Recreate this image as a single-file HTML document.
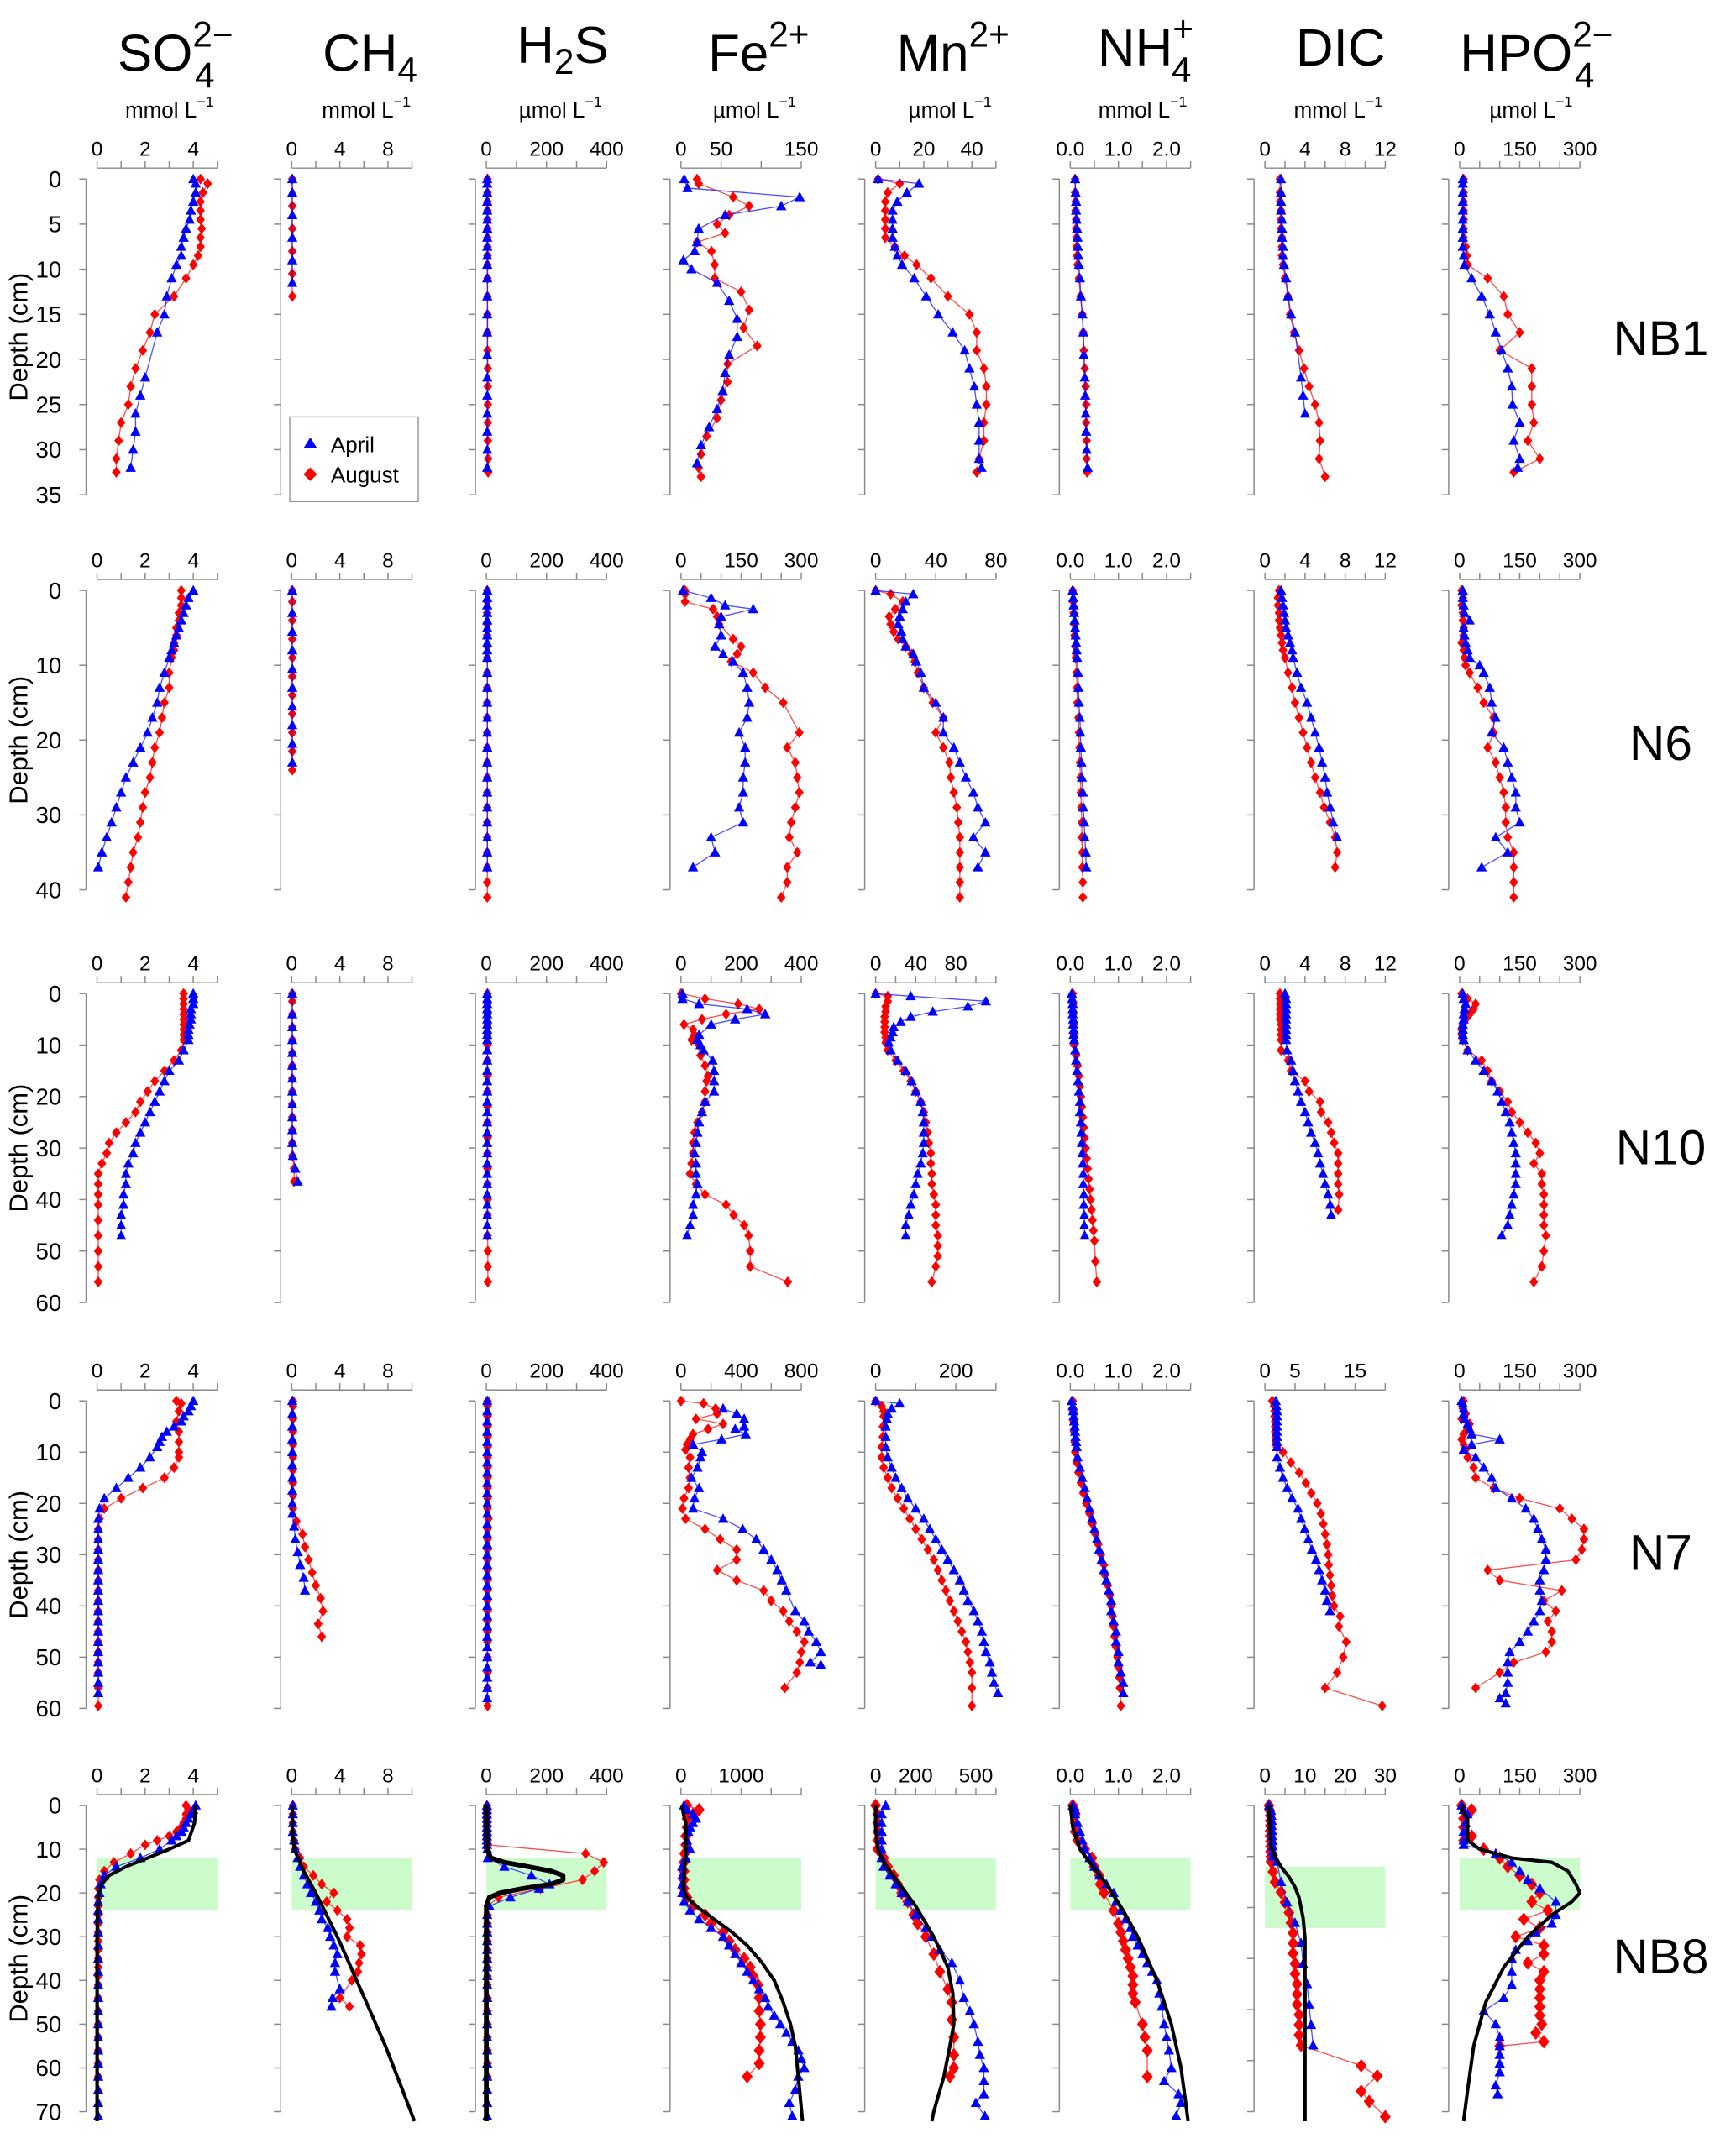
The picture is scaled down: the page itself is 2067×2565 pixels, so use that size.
<!DOCTYPE html>
<html><head><meta charset="utf-8"><title>Porewater profiles</title>
<style>
html,body{margin:0;padding:0;background:#fff;}
svg{display:block;}
text{font-family:"Liberation Sans",Arial,sans-serif;fill:#000;}
</style></head>
<body>
<svg id="chart" xmlns="http://www.w3.org/2000/svg" width="2067" height="2565" viewBox="0 0 1270 1576" preserveAspectRatio="none">
<g>
 <text x="86" y="52" font-size="38">SO<tspan font-size="26" dy="-18">2−</tspan><tspan font-size="26" dx="-28" dy="30">4</tspan></text>
 <text x="236" y="52" font-size="38">CH<tspan font-size="26" dy="8">4</tspan></text>
 <text x="378" y="46" font-size="38">H<tspan font-size="26" dy="8">2</tspan><tspan dy="-8">S</tspan></text>
 <text x="518" y="52" font-size="38">Fe<tspan font-size="26" dy="-18">2+</tspan></text>
 <text x="656" y="52" font-size="38">Mn<tspan font-size="26" dy="-18">2+</tspan></text>
 <text x="803" y="48" font-size="38">NH<tspan font-size="26" dy="-18">+</tspan><tspan font-size="26" dx="-16" dy="30">4</tspan></text>
 <text x="948" y="48" font-size="38">DIC</text>
 <text x="1068" y="52" font-size="38">HPO<tspan font-size="26" dy="-18">2−</tspan><tspan font-size="26" dx="-28" dy="30">4</tspan></text>
</g>
<g font-size="16">
 <text x="124" y="86" text-anchor="middle">mmol L<tspan font-size="11" dy="-8">−1</tspan></text>
 <text x="268" y="86" text-anchor="middle">mmol L<tspan font-size="11" dy="-8">−1</tspan></text>
 <text x="410" y="86" text-anchor="middle">µmol L<tspan font-size="11" dy="-8">−1</tspan></text>
 <text x="552" y="86" text-anchor="middle">µmol L<tspan font-size="11" dy="-8">−1</tspan></text>
 <text x="695" y="86" text-anchor="middle">µmol L<tspan font-size="11" dy="-8">−1</tspan></text>
 <text x="836" y="86" text-anchor="middle">mmol L<tspan font-size="11" dy="-8">−1</tspan></text>
 <text x="979" y="86" text-anchor="middle">mmol L<tspan font-size="11" dy="-8">−1</tspan></text>
 <text x="1120" y="86" text-anchor="middle">µmol L<tspan font-size="11" dy="-8">−1</tspan></text>
</g>
<g id="plots"></g>
<g>
 <rect x="212" y="305" width="94" height="62" fill="#fff" stroke="#888" stroke-width="0.8"/>
 <polygon points="227,320 222,328 232,328" fill="#0000ff"/>
 <text x="242" y="331" font-size="16">April</text>
 <polygon points="227,342 232,347 227,352 222,347" fill="#ff0000"/>
 <text x="242" y="353" font-size="16">August</text>
</g>
</svg>
<script>
// ---- axis configuration (labels & limits) ----
const COL_KEYS = ['SO4','CH4','H2S','FE','MN','NH4','DIC','HPO4'];
const ROW_NAMES = ['NB1','N6','N10','N7','NB8'];
const ROW_DMAX = [35,40,60,60,70];
const ROW_DSTEP = [5,10,10,10,10];
const XMAX_NB1 = [5,10,400,150,50,2.5,12,300];
const XMAX_N6  = [5,10,400,300,80,2.5,12,300];
const XMAX_N10 = [5,10,400,400,120,2.5,12,300];
const XMAX_N7  = [5,10,400,800,300,2.5,20,300];
const XMAX_NB8 = [5,10,400,2000,600,2.5,30,300];
const XSTEP_NB1 = [1,2,100,50,10,0.5,2,50];
const XSTEP_N6  = [1,2,100,50,20,0.5,2,50];
const XSTEP_N10 = [1,2,100,100,20,0.5,2,50];
const XSTEP_N7  = [1,2,100,200,100,0.5,5,50];
const XSTEP_NB8 = [1,2,100,500,100,0.5,5,50];
const XLAB_NB1 = [['0','2','4'],['0','4','8'],['0','200','400'],['0','50','150'],['0','20','40'],['0.0','1.0','2.0'],['0','4','8','12'],['0','150','300']];
const XLAB_N6  = [['0','2','4'],['0','4','8'],['0','200','400'],['0','150','300'],['0','40','80'],['0.0','1.0','2.0'],['0','4','8','12'],['0','150','300']];
const XLAB_N10 = [['0','2','4'],['0','4','8'],['0','200','400'],['0','200','400'],['0','40','80'],['0.0','1.0','2.0'],['0','4','8','12'],['0','150','300']];
const XLAB_N7  = [['0','2','4'],['0','4','8'],['0','200','400'],['0','400','800'],['0','200'],['0.0','1.0','2.0'],['0','5','15'],['0','150','300']];
const XLAB_NB8 = [['0','2','4'],['0','4','8'],['0','200','400'],['0','1000'],['0','200','500'],['0.0','1.0','2.0'],['0','10','20','30'],['0','150','300']];
const NB8_BAND = [12,24];
const NB8_DIC_DMAX = 60;

// ---- data: [depth cm, value] ----
const NB1_SO4_APR=[[0,4.0],[0.5,4.1],[1.5,4.1],[2.5,4.0],[3.5,3.9],[4.5,3.85],[5.5,3.7],[6.5,3.6],[7.5,3.5],[8.5,3.5],[9.5,3.3],[11,3.1],[13,2.9],[15,2.8],[17,2.5],[22,2.0],[24,1.8],[26,1.6],[28,1.6],[30,1.5],[32,1.4]];
const NB1_SO4_AUG=[[0,4.3],[0.5,4.6],[1.5,4.4],[2.5,4.3],[3.5,4.3],[4.5,4.3],[5.5,4.35],[6.5,4.3],[7.5,4.3],[8.5,4.2],[9.5,4.0],[11,3.7],[13,3.2],[15,2.4],[17,2.2],[19,1.9],[21,1.6],[23,1.4],[25,1.3],[27,1.0],[29,0.9],[31,0.8],[32.5,0.8]];
const NB1_CH4_APR=[[0,0.05],[1.5,0.05],[4,0.05],[6.5,0.05],[9,0.05],[11.5,0.05]];
const NB1_CH4_AUG=[[0,0.05],[3,0.05],[5.5,0.05],[8,0.05],[10.5,0.05],[13,0.05]];
const NB1_H2S_APR=[[0,3],[0.5,3],[1.5,3],[2.5,3],[3.5,3],[4.5,3],[5.5,3],[6.5,3],[7.5,3],[8.5,3],[9.5,3],[11,3],[13,3],[15,3],[17,3],[19.5,3],[22,3],[24,3],[26,3],[28,3],[30,3],[32,3]];
const NB1_H2S_AUG=[[0,4],[1.5,4],[2.5,4],[3.5,4],[4.5,4],[5.5,4],[6.5,4],[7.5,4],[8.5,4],[9.5,4],[11,4],[13,4],[15,4],[17,4],[19,4],[21,5],[23,5],[25,5],[27,5],[29,5],[31,6],[32.5,6]];
const NB1_FE_APR=[[0,4],[1,8],[2,148],[3,125],[4,55],[5.5,22],[7,20],[8,17],[9,3],[10,13],[11.5,45],[13.5,60],[15.5,70],[17.5,70],[19.5,60],[21.5,55],[23.5,52],[25.5,45],[27.5,35],[29.5,25],[31.5,20]];
const NB1_FE_AUG=[[0,20],[0.5,22],[2,65],[3,85],[4,60],[5,45],[6,55],[7,20],[8,38],[9.5,42],[11,42],[12.5,75],[14.5,85],[16.5,78],[18.5,95],[20.5,58],[22.5,58],[24.5,50],[26.5,45],[28.5,32],[30.5,25],[32,22],[33,25]];
const NB1_MN_APR=[[0,1],[0.5,18],[1.5,13],[2.5,9],[3.5,7],[4.5,7],[5.5,7],[6.5,7],[7.5,8],[8.5,9],[9.5,11],[11,16],[13,21],[15,26],[17,32],[19,37],[21,39],[23,41],[25,42],[27,43],[29,43],[31,43],[32,44]];
const NB1_MN_AUG=[[0,1],[0.5,10],[1.5,5],[2.5,4],[3.5,4],[4.5,4],[5.5,4],[6.5,4],[7.5,8],[8.5,12],[9.5,17],[11,23],[13,30],[15,39],[17,42],[19,42],[21,45],[23,46],[25,46],[27,45],[29,45],[31,43],[32.5,42]];
const NB1_NH4_APR=[[0,0.1],[1.5,0.11],[2.5,0.12],[3.5,0.12],[4.5,0.13],[5.5,0.14],[6.5,0.15],[7.5,0.16],[8.5,0.17],[9.5,0.18],[11,0.2],[13,0.22],[15,0.25],[17,0.27],[19.5,0.28],[22,0.3],[24,0.31],[26,0.32],[28,0.33],[30,0.34],[32,0.36]];
const NB1_NH4_AUG=[[0,0.1],[1.5,0.1],[2.5,0.11],[3.5,0.11],[4.5,0.12],[5.5,0.12],[6.5,0.13],[7.5,0.13],[8.5,0.14],[9.5,0.15],[11,0.18],[13,0.21],[15,0.25],[17,0.27],[19,0.28],[21,0.3],[23,0.32],[25,0.33],[27,0.33],[29,0.34],[31,0.34],[32.5,0.35]];
const NB1_DIC_APR=[[0,1.6],[1.5,1.6],[2.5,1.6],[3.5,1.6],[4.5,1.7],[5.5,1.7],[6.5,1.7],[7.5,1.8],[8.5,1.8],[9.5,1.9],[11,2.1],[13,2.3],[15,2.6],[17,3.0],[22,3.6],[24,3.8],[26,4.0]];
const NB1_DIC_AUG=[[0,1.5],[1.5,1.5],[2.5,1.5],[3.5,1.6],[4.5,1.6],[5.5,1.6],[6.5,1.7],[7.5,1.7],[8.5,1.7],[9.5,1.8],[11,2.0],[13,2.3],[15,2.5],[17,2.9],[19,3.4],[21,3.9],[23,4.4],[25,5.0],[27,5.4],[29,5.5],[31,5.4],[33,6.0]];
const NB1_HPO4_APR=[[0,8],[0.5,8],[1.5,8],[2.5,8],[3.5,8],[4.5,8],[5.5,8],[6.5,8],[7.5,8],[8.5,10],[9.5,12],[11,30],[13,55],[15,75],[17,90],[19,105],[21,120],[23,130],[25,132],[27,150],[29,135],[31,150],[32,145]];
const NB1_HPO4_AUG=[[0,10],[1.5,10],[2.5,10],[3.5,10],[4.5,10],[5.5,10],[6.5,10],[7.5,15],[8.5,18],[9.5,20],[11,70],[13,110],[15,120],[17,150],[19,100],[21,180],[23,180],[25,180],[27,185],[29,170],[31,200],[32.5,135]];

const N6_SO4_APR=[[0,4.0],[1,3.8],[2,3.7],[3,3.6],[4,3.5],[5,3.4],[6,3.3],[7,3.2],[8,3.1],[9,3.0],[11,2.8],[13,2.6],[15,2.5],[17,2.3],[19,2.1],[21,1.8],[23,1.5],[25,1.2],[27,1.0],[29,0.8],[31,0.6],[33,0.4],[35,0.2],[37,0.05]];
const N6_SO4_AUG=[[0,3.5],[1,3.5],[2,3.5],[3,3.4],[4,3.4],[5,3.3],[6,3.3],[7,3.2],[8,3.2],[9,3.1],[11,3.0],[13,3.0],[15,2.8],[17,2.7],[19,2.6],[21,2.4],[23,2.3],[25,2.2],[27,2.0],[29,1.9],[31,1.8],[33,1.7],[35,1.5],[37,1.4],[39,1.3],[41,1.2]];
const N6_CH4_APR=[[0,0.05],[3,0.05],[5.5,0.05],[8,0.05],[10.5,0.05],[13,0.05],[15.5,0.05],[18,0.05],[20.5,0.05],[23,0.05]];
const N6_CH4_AUG=[[0,0.05],[1.5,0.05],[4,0.05],[6.5,0.05],[9,0.05],[11.5,0.05],[14,0.05],[16.5,0.05],[19,0.05],[21.5,0.05],[24,0.05]];
const N6_H2S_APR=[[0,3],[1,3],[2,3],[3,3],[4,3],[5,3],[6,3],[7,3],[8,3],[9,3],[11,3],[13,3],[15,3],[17,3],[19,3],[21,3],[23,3],[25,3],[27,3],[29,3],[31,3],[33,3],[35,3],[37,3]];
const N6_H2S_AUG=[[0,3],[1.5,3],[3,3],[4.5,3],[6,3],[7.5,3],[9,3],[11,3],[13,3],[15,3],[17,3],[19,3],[21,3],[23,3],[25,3],[27,3],[29,3],[31,3],[33,3],[35,3],[37,3],[39,3],[41,3]];
const N6_FE_APR=[[0,5],[1,75],[2,110],[2.5,180],[3.5,100],[4.5,95],[6,100],[7.5,85],[8.5,105],[9.5,130],[11,155],[13,165],[15,170],[17,165],[19,145],[21,160],[23,160],[25,155],[27,155],[29,145],[31,155],[33,75],[35,85],[37,30]];
const N6_FE_AUG=[[0,10],[0.5,10],[1.5,10],[2.5,80],[3.5,90],[4.5,95],[6.5,130],[7.5,150],[8.5,140],[9.5,125],[11,180],[13,210],[15,255],[19,295],[21,265],[23,285],[25,290],[27,295],[29,285],[31,275],[33,270],[35,290],[37,265],[39,265],[41,250]];
const N6_MN_APR=[[0,0],[0.5,25],[1.5,20],[2.5,18],[3.5,16],[4.5,15],[5.5,17],[6.5,18],[7.5,20],[8.5,25],[9.5,27],[11,30],[13,32],[15,40],[17,45],[19,45],[21,52],[23,56],[25,60],[27,65],[29,68],[31,73],[33,65],[35,73],[37,68]];
const N6_MN_AUG=[[0,0],[0.5,10],[1.5,18],[2.5,13],[3.5,9],[4.5,10],[5.5,12],[6.5,15],[7.5,20],[8.5,24],[9.5,26],[11,28],[13,32],[15,38],[17,45],[19,40],[21,45],[23,49],[25,50],[27,52],[29,54],[31,55],[33,56],[35,56],[37,56],[39,56],[41,56]];
const N6_NH4_APR=[[0,0.05],[1,0.06],[2,0.07],[3,0.08],[4,0.09],[5,0.1],[6,0.11],[7,0.12],[8,0.13],[9,0.14],[11,0.16],[13,0.17],[15,0.18],[17,0.2],[19,0.21],[21,0.22],[23,0.23],[25,0.24],[27,0.26],[29,0.27],[31,0.29],[33,0.3],[35,0.32],[37,0.33]];
const N6_NH4_AUG=[[0,0.05],[1.5,0.06],[3,0.07],[4.5,0.08],[6,0.09],[7.5,0.1],[9,0.11],[11,0.13],[13,0.14],[15,0.15],[17,0.17],[19,0.18],[21,0.19],[23,0.2],[25,0.21],[27,0.22],[29,0.23],[31,0.24],[33,0.24],[35,0.25],[37,0.25],[39,0.26],[41,0.26]];
const N6_DIC_APR=[[0,1.6],[1,1.7],[2,1.8],[3,1.9],[4,2.0],[5,2.1],[6,2.3],[7,2.5],[8,2.7],[9,2.8],[11,3.2],[13,3.6],[15,4.2],[17,4.6],[19,5.0],[21,5.4],[23,5.7],[25,6.0],[27,6.2],[29,6.5],[31,6.8],[33,7.2]];
const N6_DIC_AUG=[[0,1.4],[1,1.3],[2,1.3],[3,1.4],[4,1.4],[5,1.5],[6,1.6],[7,1.7],[8,1.8],[9,2.0],[11,2.3],[13,2.7],[15,3.0],[17,3.4],[19,3.8],[21,4.2],[23,4.6],[25,5.0],[27,5.5],[29,5.9],[31,6.5],[33,7.0],[35,7.2],[37,7.0]];
const N6_HPO4_APR=[[0,8],[1,8],[2,10],[3,12],[4,25],[5,10],[6,12],[7,15],[8,20],[9,25],[10,50],[11,60],[13,75],[15,80],[17,90],[19,80],[21,110],[23,120],[25,130],[27,140],[29,140],[31,150],[33,90],[35,120],[37,55]];
const N6_HPO4_AUG=[[0,5],[1,8],[2,5],[3,8],[4,8],[5,10],[6,10],[7,5],[8,10],[9,12],[10,15],[11,25],[13,45],[15,60],[17,85],[19,85],[21,70],[23,90],[25,100],[27,110],[29,115],[31,115],[33,120],[35,135],[37,135],[39,135],[41,135]];

const N10_SO4_APR=[[0,4.0],[1,4.0],[2,4.0],[3,3.9],[4,3.9],[5,3.9],[6,3.85],[7,3.8],[8,3.8],[9,3.8],[11,3.6],[13,3.4],[15,3.0],[17,2.8],[19,2.6],[21,2.4],[23,2.2],[25,2.0],[27,1.8],[29,1.6],[31,1.5],[33,1.3],[35,1.2],[37,1.2],[39,1.1],[41,1.1],[43,1.0],[45,1.0],[47,1.0]];
const N10_SO4_AUG=[[0,3.6],[1,3.6],[2,3.6],[3,3.6],[4,3.6],[5,3.6],[6,3.6],[7,3.6],[8,3.6],[9,3.6],[11,3.5],[13,3.2],[15,2.8],[17,2.4],[19,2.1],[21,1.8],[23,1.6],[25,1.2],[27,0.8],[29,0.5],[31,0.4],[33,0.2],[35,0.05],[37,0.05],[39,0.05],[41,0.05],[44,0.05],[47,0.05],[50,0.05],[53,0.05],[56,0.05]];
const N10_CH4_APR=[[0,0.05],[4,0.05],[6.5,0.05],[9,0.05],[11.5,0.05],[14,0.05],[16.5,0.05],[19,0.05],[21.5,0.05],[24,0.05],[26.5,0.05],[29,0.05],[31.5,0.1],[34,0.3],[36.5,0.5]];
const N10_CH4_AUG=[[0,0.05],[1.5,0.05],[4,0.05],[6.5,0.05],[9,0.05],[11.5,0.05],[14,0.05],[16.5,0.05],[19,0.05],[21.5,0.05],[24,0.05],[26.5,0.05],[29,0.05],[31.5,0.05],[34,0.2],[36.5,0.2]];
const N10_H2S_APR=[[0,3],[1,3],[2,3],[3,3],[4,3],[5,3],[6,3],[7,3],[8,3],[9,3],[11,3],[13,3],[15,3],[17,3],[19,3],[21,3],[23,3],[25,3],[27,3],[29,3],[31,3],[33,3],[35,3],[37,3],[39,3],[41,3],[43,3],[45,3],[47,3]];
const N10_H2S_AUG=[[0,4],[2,4],[4,4],[6,4],[8,4],[10,4],[13,4],[16,4],[19,4],[22,4],[25,4],[28,4],[31,4],[34,4],[37,4],[40,4],[43,4],[47,4],[50,5],[53,5],[56,5]];
const N10_FE_APR=[[0,5],[1,5],[2,60],[3,220],[4,280],[5,180],[6,100],[8,60],[9,55],[10,65],[11,75],[13,105],[15,110],[17,110],[19,110],[21,80],[23,70],[25,60],[27,55],[29,50],[31,45],[33,50],[35,50],[37,55],[39,50],[41,40],[43,40],[45,30],[47,20]];
const N10_FE_AUG=[[0,0],[1,80],[2,190],[3,260],[4,150],[5,70],[6,10],[7,40],[8,45],[9,35],[10,60],[12,65],[14,80],[16,90],[17,85],[19,80],[21,80],[23,70],[25,55],[27,45],[29,40],[31,40],[33,35],[35,30],[37,50],[39,80],[41,150],[43,175],[45,210],[47,225],[50,230],[53,230],[56,355]];
const N10_MN_APR=[[0,0],[0.5,35],[1.5,110],[2.5,92],[3.5,57],[4.5,35],[5.5,25],[6.5,18],[7.5,17],[8.5,15],[9.5,13],[11,15],[13,22],[15,30],[17,36],[19,40],[21,45],[23,47],[25,48],[27,48],[29,48],[31,47],[33,45],[35,42],[37,40],[39,38],[41,35],[43,33],[45,30],[47,30]];
const N10_MN_AUG=[[0,0],[0.5,12],[1.5,12],[2.5,10],[3.5,10],[4.5,9],[5.5,9],[6.5,9],[7.5,9],[8.5,10],[9.5,10],[11,12],[13,20],[15,28],[17,35],[19,40],[21,45],[23,48],[25,50],[27,52],[29,53],[31,55],[33,55],[35,56],[37,56],[39,58],[41,60],[43,60],[45,60],[47,62],[49,62],[51,62],[53,60],[56,56]];
const N10_NH4_APR=[[0,0.03],[1,0.04],[2,0.05],[3,0.05],[4,0.05],[5,0.06],[6,0.06],[7,0.07],[8,0.07],[9,0.08],[11,0.1],[13,0.12],[15,0.14],[17,0.16],[19,0.18],[21,0.2],[23,0.2],[25,0.22],[27,0.23],[29,0.24],[31,0.25],[33,0.26],[35,0.27],[37,0.27],[39,0.28],[41,0.28],[43,0.29],[45,0.29],[47,0.3]];
const N10_NH4_AUG=[[0,0.05],[2,0.06],[4,0.06],[6,0.07],[8,0.07],[10,0.08],[12,0.12],[14,0.15],[16,0.18],[18,0.2],[20,0.22],[22,0.24],[24,0.26],[26,0.28],[28,0.3],[30,0.32],[32,0.34],[34,0.36],[36,0.38],[38,0.4],[40,0.42],[42,0.44],[44,0.46],[46,0.48],[48,0.5],[52,0.52],[56,0.55]];
const N10_DIC_APR=[[0,2.0],[1,2.1],[2,2.1],[3,2.1],[4,2.1],[5,2.1],[6,2.1],[7,2.1],[8,2.1],[9,2.1],[11,2.2],[13,2.6],[15,2.8],[17,3.0],[19,3.3],[21,3.6],[23,4.0],[25,4.3],[27,4.6],[29,5.0],[31,5.3],[33,5.5],[35,5.8],[37,6.0],[39,6.3],[41,6.5],[43,6.6]];
const N10_DIC_AUG=[[0,1.5],[1,1.5],[2,1.5],[3,1.5],[4,1.5],[5,1.5],[6,1.6],[7,1.6],[8,1.6],[9,1.6],[11,1.6],[13,2.3],[15,2.6],[17,4.0],[19,4.4],[21,5.5],[23,5.6],[25,6.3],[27,6.6],[29,6.9],[31,7.3],[33,7.3],[35,7.3],[37,7.3],[39,7.4],[42,7.3]];
const N10_HPO4_APR=[[0,8],[1,10],[2,15],[3,12],[4,10],[5,10],[6,8],[7,8],[8,8],[9,10],[11,20],[13,40],[15,60],[17,80],[19,95],[21,105],[23,115],[25,125],[27,130],[29,135],[31,140],[33,140],[35,140],[37,140],[39,135],[41,130],[43,125],[45,120],[47,105]];
const N10_HPO4_AUG=[[0,5],[1,20],[2,40],[3,35],[4,25],[5,15],[6,8],[7,5],[8,5],[9,8],[11,20],[13,55],[15,70],[17,80],[19,100],[21,120],[23,130],[25,150],[27,170],[29,190],[31,200],[33,185],[35,205],[37,205],[39,210],[41,210],[43,210],[45,210],[47,215],[50,210],[53,205],[56,185]];

const N7_SO4_APR=[[0,4.0],[1,3.9],[2,3.8],[3,3.6],[4,3.5],[5,3.2],[6,2.9],[7,2.7],[8,2.6],[9,2.5],[11,2.2],[13,1.8],[15,1.3],[17,0.8],[19,0.3],[21,0.1],[23,0.05],[25,0.05],[27,0.05],[29,0.05],[31,0.05],[33,0.05],[35,0.05],[37,0.05],[39,0.05],[41,0.05],[43,0.05],[45,0.05],[47,0.05],[49,0.05],[51,0.05],[53,0.05],[55,0.05],[57,0.05]];
const N7_SO4_AUG=[[0,3.3],[0.5,3.5],[2,3.4],[4,3.3],[6,3.4],[8,3.4],[10,3.4],[11,3.4],[13,3.2],[15,2.8],[17,1.9],[19,1.0],[21,0.3],[23,0.1],[25,0.05],[27,0.05],[29,0.05],[31,0.05],[33,0.05],[35,0.05],[37,0.05],[39,0.05],[41,0.05],[43,0.05],[45,0.05],[47,0.05],[49,0.05],[51,0.05],[53,0.05],[56,0.05],[59.5,0.05]];
const N7_CH4_APR=[[0,0.05],[2.5,0.05],[5,0.05],[7.5,0.05],[10,0.05],[12.5,0.05],[15,0.05],[17.5,0.05],[20,0.05],[22,0.05],[24.5,0.2],[27,0.3],[29.5,0.5],[32,0.7],[34.5,1.0],[37,1.1]];
const N7_CH4_AUG=[[0,0.1],[1,0.1],[3.5,0.1],[6,0.1],[8.5,0.1],[11,0.1],[13.5,0.1],[16,0.1],[18.5,0.1],[21,0.1],[23.5,0.4],[26,0.9],[28.5,1.1],[31,1.4],[33.5,1.7],[36,2.0],[38.5,2.4],[41,2.6],[43.5,2.2],[46,2.5]];
const N7_H2S_APR=[[0,3],[2,3],[4,3],[6,3],[8,3],[10,3],[12,3],[14,3],[16,3],[18,3],[20,3],[22,3],[24,3],[26,3],[28,3],[30,3],[32,3],[34,3],[36,3],[38,3],[40,3],[42,3],[44,3],[46,3],[48,3],[50,3],[52,3],[54,3],[56,3],[58,3]];
const N7_H2S_AUG=[[0,4],[1,4],[3,4],[5,4],[7,4],[9,4],[11,4],[13,4],[15,4],[17,4],[19,4],[21,4],[23,7],[25,4],[27,4],[29,4],[31,4],[33,4],[35,4],[37,4],[39,4],[41,4],[43,4],[45,4],[47,4],[50,4],[53,4],[56,4],[59.5,4]];
const N7_FE_APR=[[1.5,280],[2.5,370],[3.5,420],[5,420],[5.5,360],[6.5,430],[7.5,270],[8.5,80],[10,140],[11,130],[13,110],[15,70],[17,120],[19,90],[21,80],[23,280],[25,410],[27,500],[29,550],[31,600],[33,640],[35,670],[37,700],[41,760],[43,820],[45,850],[47,900],[49,930],[51,860],[51.5,930]];
const N7_FE_AUG=[[0,0],[0.5,150],[1.5,230],[2.5,240],[3.5,100],[4.5,280],[5.5,180],[6.5,80],[7.5,60],[8.5,40],[9.5,30],[11,60],[13,50],[15,60],[17,50],[19,20],[21,10],[23,30],[25,160],[27,260],[29,370],[31,370],[33,240],[35,370],[37,550],[39,600],[41,680],[43,720],[45,770],[47,820],[49,800],[51,790],[53,770],[56,690]];
const N7_MN_APR=[[0,0],[0.5,60],[1.5,40],[2.5,30],[3.5,28],[5,25],[7,25],[9,25],[11,30],[13,40],[15,50],[17,65],[19,80],[21,100],[23,120],[25,135],[27,150],[29,165],[31,180],[33,195],[35,210],[37,220],[39,230],[41,245],[43,255],[45,265],[47,270],[49,275],[51,285],[53,290],[55,295],[57,305]];
const N7_MN_AUG=[[0,0],[1,15],[2,20],[3,20],[5,18],[7,18],[9,15],[11,15],[13,20],[15,30],[17,40],[19,55],[21,70],[23,85],[25,100],[27,115],[29,130],[31,145],[33,155],[35,165],[37,175],[39,185],[41,195],[43,205],[45,215],[47,225],[49,230],[51,235],[53,240],[56,240],[59.5,240]];
const N7_NH4_APR=[[0,0.03],[1,0.05],[2,0.06],[3,0.07],[4,0.08],[5,0.09],[6,0.1],[7,0.11],[8,0.12],[9,0.13],[11,0.15],[13,0.2],[15,0.25],[17,0.3],[19,0.35],[21,0.4],[23,0.45],[25,0.5],[27,0.55],[29,0.6],[31,0.65],[33,0.7],[35,0.75],[37,0.8],[39,0.85],[41,0.85],[43,0.9],[45,0.95],[47,0.95],[49,1.0],[51,1.0],[53,1.05],[55,1.1],[57,1.1]];
const N7_NH4_AUG=[[0,0.05],[2,0.06],[4,0.07],[6,0.08],[8,0.09],[10,0.1],[12,0.13],[14,0.17],[16,0.22],[18,0.27],[20,0.33],[22,0.4],[24,0.46],[26,0.52],[28,0.58],[30,0.64],[32,0.7],[34,0.72],[36,0.78],[38,0.82],[40,0.85],[42,0.88],[44,0.9],[46,0.92],[48,0.95],[50,0.98],[52,1.0],[54,1.02],[56,1.03],[59.5,1.05]];
const N7_DIC_APR=[[0,1.8],[1,1.9],[2,2.0],[3,2.0],[4,2.0],[5,2.0],[6,2.0],[7,2.0],[8,2.0],[9,2.0],[11,2.0],[13,2.5],[15,3.0],[17,3.7],[19,4.5],[21,5.5],[23,6.0],[25,6.6],[27,7.2],[29,7.8],[31,8.5],[33,9.0],[35,9.5],[37,10.0],[39,10.3],[41,10.8]];
const N7_DIC_AUG=[[0,1.2],[1,1.5],[2,1.6],[3,1.6],[4,1.7],[5,1.7],[6,1.7],[7,1.8],[8,1.8],[9,2.0],[10,3.0],[12,4.3],[14,5.7],[16,6.8],[18,7.7],[20,8.7],[22,9.3],[24,9.7],[26,10.0],[28,10.3],[30,10.5],[32,10.6],[34,10.8],[36,11.0],[38,11.2],[40,11.5],[42,12.5],[44,12.3],[47,13.5],[50,13.0],[53,12.0],[56,10.0],[59.5,19.5]];
const N7_HPO4_APR=[[0,5],[0.5,8],[1.5,10],[2.5,10],[3.5,12],[4.5,20],[5.5,25],[6.5,30],[7.5,100],[8.5,30],[9.5,10],[11,40],[13,60],[15,80],[17,90],[19,130],[21,165],[23,185],[25,195],[27,205],[29,215],[31,215],[33,210],[35,200],[37,200],[39,205],[41,200],[43,185],[45,170],[47,150],[49,125],[51,120],[53,120],[55,120],[57,115],[58,100],[59,115]];
const N7_HPO4_AUG=[[0,10],[0.5,5],[1.5,8],[2.5,15],[3.5,5],[4.5,25],[5.5,20],[6.5,10],[7.5,5],[8.5,10],[9.5,15],[11,20],[13,35],[15,40],[17,85],[19,150],[21,250],[23,280],[25,310],[27,310],[29,305],[31,290],[33,70],[35,100],[37,255],[39,210],[41,240],[43,220],[45,230],[47,230],[49,215],[51,135],[53,100],[56,40]];

const NB8_SO4_APR=[[0,4.1],[1,4.0],[2,3.9],[3,3.8],[4,3.7],[5,3.6],[6,3.5],[7,3.3],[8,3.1],[10,2.6],[12,1.8],[14,0.8],[16,0.3],[18,0.15],[20,0.1],[22,0.05],[24,0.05],[26,0.05],[29,0.05],[32,0.05],[35,0.05],[38,0.05],[41,0.05],[44,0.05],[47,0.05],[50,0.05],[53,0.05],[56,0.05],[59,0.05],[62,0.05],[65,0.05],[68,0.05],[71,0.05]];
const NB8_SO4_AUG=[[0,3.7],[1,3.8],[2,3.7],[3,3.7],[4,3.6],[5,3.5],[6,3.3],[7,3.0],[8,2.5],[9,2.0],[11,1.4],[13,0.7],[15,0.3],[17,0.1],[19,0.05],[21,0.05],[23,0.05],[25,0.05],[27,0.05],[29,0.05],[31,0.05],[33,0.05],[35,0.05],[37,0.05],[39,0.05],[41,0.05],[44,0.05],[47,0.05],[50,0.05],[53,0.05],[56,0.05],[59,0.05],[62,0.05]];
const NB8_CH4_APR=[[0,0.1],[2,0.1],[4,0.1],[6,0.1],[8,0.2],[10,0.3],[12,0.5],[14,0.7],[16,1.0],[18,1.3],[20,1.6],[22,2.0],[24,2.3],[26,2.5],[28,3.0],[30,3.2],[32,3.5],[34,3.8],[36,3.6],[38,3.6],[42,4.0],[44,3.4],[46,3.3]];
const NB8_CH4_AUG=[[0,0.1],[2,0.1],[4,0.1],[6,0.1],[8,0.2],[10,0.3],[12,0.7],[14,1.0],[16,1.8],[18,2.5],[20,3.5],[22,2.9],[24,3.8],[26,4.6],[28,4.8],[30,4.6],[32,5.7],[34,5.8],[36,5.6],[38,5.5],[40,5.0],[44,4.0],[46,4.8]];
const NB8_H2S_APR=[[0,2],[1,2],[2,2],[3,2],[4,2],[5,2],[6,2],[7,2],[8,2],[9,2],[10,3],[12,5],[14,60],[16,150],[18,210],[19,175],[21,80],[23,10],[25,3],[27,3],[29,3],[31,3],[33,3],[35,3],[37,3],[39,3],[41,3],[44,3],[47,3],[50,3],[53,3],[56,3],[59,3],[62,3],[65,3],[68,3],[71,3]];
const NB8_H2S_AUG=[[0,2],[1,2],[2,2],[3,2],[4,2],[5,2],[6,3],[7,3],[8,3],[9,5],[11,330],[13,390],[15,360],[17,320],[19,180],[21,40],[23,5],[25,4],[27,4],[29,4],[31,4],[33,4],[35,4],[37,4],[39,4],[41,4],[44,4],[47,4],[50,4],[53,4],[56,4],[59,4],[62,4]];
const NB8_FE_APR=[[0,50],[1,100],[2,200],[3,250],[4,200],[5,150],[6,120],[8,100],[10,150],[12,80],[14,20],[16,20],[18,20],[20,20],[22,50],[24,150],[26,300],[28,500],[30,700],[32,800],[34,900],[36,1000],[38,1100],[40,1200],[42,1300],[44,1400],[46,1450],[48,1550],[50,1650],[52,1750],[54,1850],[56,1950],[58,2000],[60,2050],[62,1950],[65,1900],[68,1800],[71,1850]];
const NB8_FE_AUG=[[0,100],[1,300],[2,200],[3,100],[5,100],[7,80],[9,80],[11,60],[13,50],[15,50],[17,50],[19,50],[21,100],[23,200],[25,400],[27,500],[29,700],[31,800],[33,900],[35,1050],[37,1150],[39,1200],[41,1280],[44,1300],[47,1300],[50,1320],[53,1320],[56,1300],[59,1300],[62,1100]];
const NB8_MN_APR=[[0,50],[2,30],[4,30],[6,30],[8,30],[10,30],[12,30],[14,40],[16,70],[18,100],[20,130],[22,160],[25,200],[28,250],[30,280],[33,320],[36,380],[40,420],[44,440],[47,470],[50,490],[54,510],[57,520],[60,540],[63,540],[66,540],[68,500],[71,545]];
const NB8_MN_AUG=[[0,0],[2,10],[4,10],[6,10],[8,10],[10,10],[12,40],[14,60],[16,90],[18,110],[20,130],[22,160],[25,190],[27,210],[30,250],[34,290],[38,320],[42,360],[45,380],[49,380],[53,390],[57,390],[60,390],[62,370]];
const NB8_NH4_APR=[[0,0.05],[1,0.1],[2,0.1],[4,0.15],[6,0.2],[8,0.25],[10,0.3],[12,0.4],[14,0.5],[16,0.6],[18,0.75],[20,0.9],[22,0.95],[24,1.05],[26,1.15],[28,1.25],[30,1.3],[32,1.4],[34,1.5],[36,1.6],[38,1.7],[40,1.8],[43,1.85],[46,1.9],[50,1.95],[53,2.0],[56,2.05],[60,2.1],[63,1.95],[66,2.25],[68,2.3],[71,2.2]];
const NB8_NH4_AUG=[[0,0.05],[1,0.08],[2,0.1],[4,0.1],[6,0.1],[8,0.15],[10,0.3],[12,0.45],[14,0.5],[16,0.6],[18,0.62],[20,0.7],[24,0.9],[27,1.0],[29,1.05],[31,1.1],[33,1.15],[35,1.2],[37,1.25],[39,1.3],[41,1.3],[43,1.3],[45,1.35],[50,1.5],[53,1.55],[56,1.6],[62,1.6]];
const NB8_DIC_APR=[[0,1.0],[1,1.5],[2,1.6],[3,1.7],[4,1.7],[5,1.8],[6,1.8],[7,1.9],[8,1.9],[9,2.0],[10,2.0],[11,3.0],[15,4.0],[19,5.5],[23,7.5],[27,9.0],[31,9.5],[35,10.5],[39,11.0],[43,11.5],[47,12.0]];
const NB8_DIC_AUG=[[0,1.0],[1,1.2],[2,1.3],[3,1.3],[4,1.3],[5,1.3],[6,1.3],[7,1.4],[8,1.4],[9,1.4],[10,1.5],[11,1.5],[13,2.0],[15,2.5],[17,4.0],[19,5.0],[21,6.0],[23,6.5],[25,7.0],[27,7.0],[29,7.0],[31,7.5],[33,7.5],[35,8.0],[37,8.0],[39,8.0],[41,8.5],[43,8.5],[45,8.5],[47,9.0],[51,24],[53,28],[56,24],[58,26],[61,30]];
const NB8_HPO4_APR=[[0,5],[1,10],[2,20],[4,15],[6,10],[8,10],[9,10],[11,90],[13,130],[15,150],[17,170],[19,200],[22,240],[25,240],[27,230],[29,190],[31,170],[33,140],[35,130],[38,130],[41,130],[44,110],[47,60],[50,90],[53,100],[55,100],[57,100],[59,100],[61,100],[64,90],[66,95]];
const NB8_HPO4_AUG=[[0,5],[1,30],[3,10],[5,10],[7,30],[8,10],[10,60],[12,100],[14,120],[16,150],[18,180],[20,200],[22,180],[24,220],[26,160],[28,200],[30,140],[32,210],[34,210],[36,170],[38,210],[40,200],[42,200],[44,200],[46,200],[48,200],[50,205],[52,190],[54,210],[55,100]];

// ---- NB8 model curves ----
const MODEL_SO4=[[0,4.1],[4,4.05],[8,3.8],[10,3.0],[12,2.1],[14,1.2],[16,0.5],[18,0.2],[20,0.08],[24,0.02],[30,0],[73,0]];
const MODEL_CH4=[[0,0.05],[5,0.05],[10,0.2],[15,1.0],[20,2.0],[25,2.9],[30,3.8],[35,4.6],[40,5.4],[45,6.2],[50,7.0],[55,7.8],[60,8.5],[65,9.2],[73,10.2]];
const MODEL_H2S=[[0,0],[10,2],[12,15],[13,60],[14,140],[15,215],[16,255],[17,255],[18,215],[19,120],[20,45],[21,10],[23,0],[73,0]];
const MODEL_FE=[[0,20],[2,40],[4,80],[10,80],[15,60],[19,40],[21,100],[23,250],[26,550],[29,850],[32,1100],[36,1350],[40,1550],[45,1700],[50,1820],[55,1900],[62,1950],[73,2020]];
const MODEL_MN=[[0,0],[5,0],[10,10],[13,40],[18,120],[23,200],[30,290],[37,360],[43,385],[50,390],[55,370],[62,340],[70,290],[73,280]];
const MODEL_NH4=[[0,0],[5,0.05],[10,0.2],[13,0.4],[18,0.75],[24,1.1],[30,1.4],[40,1.8],[50,2.1],[60,2.3],[73,2.45]];
const MODEL_DIC=[[0,1],[8,1.5],[10,2.5],[12,4],[14,6],[16,7.5],[18,8.5],[22,9.5],[26,10],[30,10],[63,10]];
const MODEL_HPO4=[[0,10],[1,5],[3,20],[8,20],[10,50],[12,130],[13,230],[15,270],[18,290],[20,300],[22,280],[25,230],[30,170],[37,110],[45,65],[55,35],[65,20],[73,10]];

const SERIES = {
 NB1:[[NB1_SO4_APR,NB1_SO4_AUG],[NB1_CH4_APR,NB1_CH4_AUG],[NB1_H2S_APR,NB1_H2S_AUG],[NB1_FE_APR,NB1_FE_AUG],[NB1_MN_APR,NB1_MN_AUG],[NB1_NH4_APR,NB1_NH4_AUG],[NB1_DIC_APR,NB1_DIC_AUG],[NB1_HPO4_APR,NB1_HPO4_AUG]],
 N6:[[N6_SO4_APR,N6_SO4_AUG],[N6_CH4_APR,N6_CH4_AUG],[N6_H2S_APR,N6_H2S_AUG],[N6_FE_APR,N6_FE_AUG],[N6_MN_APR,N6_MN_AUG],[N6_NH4_APR,N6_NH4_AUG],[N6_DIC_APR,N6_DIC_AUG],[N6_HPO4_APR,N6_HPO4_AUG]],
 N10:[[N10_SO4_APR,N10_SO4_AUG],[N10_CH4_APR,N10_CH4_AUG],[N10_H2S_APR,N10_H2S_AUG],[N10_FE_APR,N10_FE_AUG],[N10_MN_APR,N10_MN_AUG],[N10_NH4_APR,N10_NH4_AUG],[N10_DIC_APR,N10_DIC_AUG],[N10_HPO4_APR,N10_HPO4_AUG]],
 N7:[[N7_SO4_APR,N7_SO4_AUG],[N7_CH4_APR,N7_CH4_AUG],[N7_H2S_APR,N7_H2S_AUG],[N7_FE_APR,N7_FE_AUG],[N7_MN_APR,N7_MN_AUG],[N7_NH4_APR,N7_NH4_AUG],[N7_DIC_APR,N7_DIC_AUG],[N7_HPO4_APR,N7_HPO4_AUG]],
 NB8:[[NB8_SO4_APR,NB8_SO4_AUG],[NB8_CH4_APR,NB8_CH4_AUG],[NB8_H2S_APR,NB8_H2S_AUG],[NB8_FE_APR,NB8_FE_AUG],[NB8_MN_APR,NB8_MN_AUG],[NB8_NH4_APR,NB8_NH4_AUG],[NB8_DIC_APR,NB8_DIC_AUG],[NB8_HPO4_APR,NB8_HPO4_AUG]]
};
const MODELS=[MODEL_SO4,MODEL_CH4,MODEL_H2S,MODEL_FE,MODEL_MN,MODEL_NH4,MODEL_DIC,MODEL_HPO4];
const XMAXES=[XMAX_NB1,XMAX_N6,XMAX_N10,XMAX_N7,XMAX_NB8];
const XSTEPS=[XSTEP_NB1,XSTEP_N6,XSTEP_N10,XSTEP_N7,XSTEP_NB8];
const XLABS=[XLAB_NB1,XLAB_N6,XLAB_N10,XLAB_N7,XLAB_NB8];

// ---- layout (pixel geometry) ----
const NS='http://www.w3.org/2000/svg';
const COL_X0=71, COL_DX=142.4, AX_W=88;
const ROW_TOP=[131,432,727,1025,1321];
const ROW_BOT=[362,651,953,1250,1545];
const ROW_LABEL_Y=[260,556,852,1148,1444];
const root=document.getElementById('plots');
function el(tag,attrs,parent){const e=document.createElementNS(NS,tag);for(const k in attrs)e.setAttribute(k,attrs[k]);(parent||root).appendChild(e);return e;}

ROW_NAMES.forEach((rn,r)=>{
 const g=el('g',{});
 
 
 const y0=ROW_TOP[r], y1=ROW_BOT[r];
 const rl=el('text',{x:1215,y:ROW_LABEL_Y[r],'font-size':36,'text-anchor':'middle'},g);
 rl.textContent=rn;
 
 
 const yc=(y0+y1)/2;
 const yt=el('text',{x:0,y:0,'font-size':19,'text-anchor':'middle',transform:'translate(20,'+yc+') rotate(-90)'},g);
 yt.textContent='Depth (cm)';
 
 
 COL_KEYS.forEach((ck,c)=>{
  const pg=el('g',{},g);
  
  
  const zx=COL_X0+COL_DX*c;
  const xmax=XMAXES[r][c];
  const dmax=(r===4&&ck==='DIC')?NB8_DIC_DMAX:ROW_DMAX[r];
  const xs=v=>zx+v/xmax*AX_W;
  const ys=d=>y0+d/dmax*(y1-y0);
  const vx=zx-8;
  if(r===4){
   const band=el('rect',{x:zx,y:ys(NB8_BAND[0]),width:AX_W,height:ys(NB8_BAND[1])-ys(NB8_BAND[0]),fill:'#ccfccc'},pg);
   
   
  }
  const ay=y0-8;
  const xa=el('line',{x1:zx,y1:ay,x2:zx+AX_W,y2:ay,stroke:'#888','stroke-width':0.9},pg);
  
  
  const st=XSTEPS[r][c];
  for(let v=0; v<=xmax+1e-9; v+=st){
   el('line',{x1:xs(v),y1:ay,x2:xs(v),y2:ay-5,stroke:'#888','stroke-width':0.9},pg);
  }
  XLABS[r][c].forEach(l=>{
   const t=el('text',{x:xs(parseFloat(l)),y:ay-9,'font-size':15,'text-anchor':'middle'},pg);
   t.textContent=l;
   
   
  });
  const ya=el('line',{x1:vx,y1:y0,x2:vx,y2:y1,stroke:'#888','stroke-width':0.9},pg);
  
  
  const dst=(r===4&&ck==='DIC')?10:ROW_DSTEP[r];
  for(let d=0; d<=dmax+1e-9; d+=dst){
   el('line',{x1:vx-5,y1:ys(d),x2:vx,y2:ys(d),stroke:'#888','stroke-width':0.9},pg);
   if(c===0){
    const t=el('text',{x:45,y:ys(d)+6,'font-size':17,'text-anchor':'end'},pg);
    t.textContent=String(d);
    
    
   }
  }
  const pair=SERIES[rn][c];
  const drawSeries=(data,color,kind)=>{
   const sg=el('g',{},pg);
   
   
   el('polyline',{points:data.map(p=>xs(p[1]).toFixed(1)+','+ys(p[0]).toFixed(1)).join(' '),fill:'none',stroke:color,'stroke-width':0.8,'stroke-opacity':0.7},sg);
   const big=(r===4&&kind==='dia'&&c>2)?5:4;
   data.forEach(p=>{
    const x=xs(p[1]), y=ys(p[0]);
    let m;
    if(kind==='tri') m=el('polygon',{points:`${x},${y-4} ${x-3.8},${y+3} ${x+3.8},${y+3}`,fill:color},sg);
    else m=el('polygon',{points:`${x},${y-big} ${x+big*0.8},${y} ${x},${y+big} ${x-big*0.8},${y}`,fill:color},sg);
    
    
   });
  };
  drawSeries(pair[1],'#ff0000','dia');
  drawSeries(pair[0],'#0000ff','tri');
  if(r===4){
   const md=MODELS[c];
   const ml=el('polyline',{points:md.map(p=>xs(p[1]).toFixed(1)+','+Math.min(ys(p[0]),1552).toFixed(1)).join(' '),fill:'none',stroke:'#000','stroke-width':ck==='H2S'?3.5:2.5,'stroke-linejoin':'round'},pg);
   
   
  }
 });
});
</script>
</body></html>
